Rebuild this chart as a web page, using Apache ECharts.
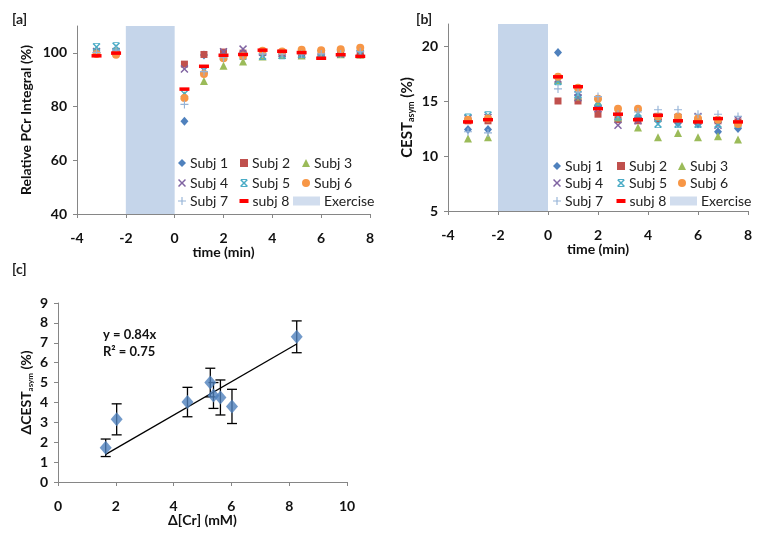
<!DOCTYPE html>
<html><head><meta charset="utf-8">
<script src="https://cdn.jsdelivr.net/npm/echarts@6/dist/echarts.min.js"></script>
<style>html,body{margin:0;padding:0;background:#fff}#c{width:762px;height:539px}</style>
</head><body><div id="c"></div>
<script>
// ---------- DATA ----------
const times = [-3.2, -2.4, 0.4, 1.2, 2.0, 2.8, 3.6, 4.4, 5.2, 6.0, 6.8, 7.6];
const subjNames = ['Subj 1','Subj 2','Subj 3','Subj 4','Subj 5','Subj 6','Subj 7','subj 8'];
const exerciseStart = -2, exerciseEnd = 0;

// Panel a: Relative PCr integral (%)
const pcrSubj1 = [100.0, 100.5, 74.5, 99.2, 99.5, 99.8, 99.5, 99.5, 99.5, 99.5, 99.8, 99.5];
const pcrSubj2 = [100.3, 100.2, 95.8, 99.4, 100.3, 99.9, 100.2, 99.9, 99.3, 99.4, 99.6, 99.3];
const pcrSubj3 = [100.8, 101.2, 84.2, 89.5, 95.2, 96.8, 98.6, 99.2, 99.0, 99.2, 99.5, 99.4];
const pcrSubj4 = [100.5, 100.5, 94.0, 93.5, 100.4, 101.4, 100.2, 99.8, 99.3, 99.8, 99.6, 99.7];
const pcrSubj5 = [102.2, 102.5, 84.8, 93.8, 98.5, 98.8, 98.8, 99.1, 99.6, 99.9, 99.9, 99.7];
const pcrSubj6 = [99.6, 99.3, 83.2, 92.1, 98.0, 98.8, 100.8, 100.5, 101.2, 101.0, 101.3, 101.9];
const pcrSubj7 = [100.2, 101.0, 80.8, 93.0, 98.2, 99.0, 99.6, 99.5, 99.5, 99.6, 99.6, 100.4];
const pcrSubj8 = [98.9, 99.9, 86.5, 95.0, 99.1, 99.4, 101.0, 100.6, 100.1, 98.0, 99.3, 98.7];

// Panel b: CEST_asym (%)
const cestSubj1 = [12.4, 12.4, 19.4, 15.5, 14.5, 13.8, 13.5, 13.3, 13.0, 12.9, 12.2, 12.5];
const cestSubj2 = [13.2, 13.2, 15.0, 15.0, 13.8, 13.3, 13.2, 13.4, 13.3, 13.2, 13.2, 13.1];
const cestSubj3 = [11.6, 11.7, 16.9, 15.4, 14.9, 13.5, 12.6, 11.7, 12.1, 11.7, 11.8, 11.5];
const cestSubj4 = [13.4, 13.5, 17.0, 15.3, 14.3, 12.8, 13.2, 13.6, 13.5, 13.6, 12.8, 13.3];
const cestSubj5 = [13.5, 13.7, 16.8, 15.6, 14.9, 13.6, 13.9, 12.9, 12.9, 12.9, 12.9, 12.9];
const cestSubj6 = [13.3, 13.4, 17.2, 16.2, 15.2, 14.3, 14.3, 13.6, 13.6, 13.4, 13.3, 12.9];
const cestSubj7 = [12.2, 12.1, 16.1, 15.8, 15.4, 13.8, 14.0, 14.2, 14.2, 13.8, 13.8, 13.6];
const cestSubj8 = [13.1, 13.3, 17.2, 16.3, 14.3, 13.8, 13.3, 13.7, 13.2, 13.1, 13.4, 13.1];

// Panel c: ΔCEST_asym vs Δ[Cr]
const deltaCr = [1.65, 2.03, 4.48, 5.27, 5.38, 5.62, 6.02, 8.26];
const deltaCest = [1.72, 3.15, 4.02, 5.0, 4.35, 4.25, 3.8, 7.3];
const deltaCestErr = [0.44, 0.78, 0.74, 0.72, 0.65, 0.88, 0.86, 0.8];
const fitSlope = 0.84;
const fitR2 = 0.75;

const pcrTicks = [40, 60, 80, 100];
const cestTicks = [5, 10, 15, 20];

// ---------- STYLE ----------
const FONT = 'Lato';
const AXIS_GRAY = '#868686';
const BAND = '#C5D5EA';
const colors = ['#4F81BD','#C0504D','#9BBB59','#8064A2','#4BACC6','#F79646','#95B3D7','#FF0000'];
const X_PATH = 'path://M0,1.3 L1.3,0 L5,3.7 L8.7,0 L10,1.3 L6.3,5 L10,8.7 L8.7,10 L5,6.3 L1.3,10 L0,8.7 L3.7,5 Z';
const AST_PATH = 'path://M0,1.3 L1.3,0 L5,3.7 L8.7,0 L10,1.3 L6.3,5 L10,8.7 L8.7,10 L5,6.3 L1.3,10 L0,8.7 L3.7,5 Z M1,0 H9 V1.1 H1 Z M1,8.9 H9 V10 H1 Z';
const PLUS_PATH = 'path://M4.3,0 H5.7 V4.3 H10 V5.7 H5.7 V10 H4.3 V5.7 H0 V4.3 H4.3 Z';
const symbols = ['diamond','rect','triangle', X_PATH, AST_PATH, 'circle', PLUS_PATH, 'rect'];
const sizes = [[8,9],7,8,8,8,8,8,[10,3.5]];

const pcrAll = [pcrSubj1,pcrSubj2,pcrSubj3,pcrSubj4,pcrSubj5,pcrSubj6,pcrSubj7,pcrSubj8];
const cestAll = [cestSubj1,cestSubj2,cestSubj3,cestSubj4,cestSubj5,cestSubj6,cestSubj7,cestSubj8];

function axisCommon(extra) {
  return Object.assign({
    axisLine: {show: true, onZero: false, lineStyle: {color: AXIS_GRAY, width: 1}},
    axisTick: {show: true, length: 4, lineStyle: {color: AXIS_GRAY}},
    splitLine: {show: false},
    axisLabel: {color: '#111', fontFamily: FONT, fontWeight: 'bold', fontSize: 14, margin: 17},
    nameTextStyle: {color: '#111', fontFamily: FONT, fontWeight: 'bold', fontSize: 14},
    nameLocation: 'middle'
  }, extra);
}

const series = [];
function addPanel(idx, dataAll) {
  series.push({
    name: 'Exercise', type: 'scatter', xAxisIndex: idx, yAxisIndex: idx, data: [],
    itemStyle: {color: BAND}, silent: true,
    markArea: {silent: true, itemStyle: {color: BAND}, data: [[{xAxis: exerciseStart}, {xAxis: exerciseEnd}]]}
  });
  subjNames.forEach((n, i) => {
    series.push({
      name: n, type: 'scatter', xAxisIndex: idx, yAxisIndex: idx,
      symbol: symbols[i], symbolSize: sizes[i],
      itemStyle: {color: colors[i], opacity: 1},
      data: times.map((t, k) => [t, dataAll[i][k]]),
      z: 3 + i
    });
  });
}
addPanel(0, pcrAll);
addPanel(1, cestAll);

// Panel c
series.push({
  type: 'line', xAxisIndex: 2, yAxisIndex: 2, symbol: 'none',
  lineStyle: {color: '#000', width: 1.3}, z: 2,
  data: [Math.min(...deltaCr), Math.max(...deltaCr)].map(x => [x, fitSlope * x])
});
series.push({
  type: 'custom', xAxisIndex: 2, yAxisIndex: 2, z: 3,
  data: deltaCr.map((x, i) => [x, deltaCest[i] - deltaCestErr[i], deltaCest[i] + deltaCestErr[i]]),
  encode: {x: 0, y: [1, 2]},
  renderItem: function (params, api) {
    const lo = api.coord([api.value(0), api.value(1)]);
    const hi = api.coord([api.value(0), api.value(2)]);
    const w = 5;
    const st = {stroke: '#000', lineWidth: 1.3};
    return {type: 'group', children: [
      {type: 'line', shape: {x1: lo[0], y1: lo[1], x2: hi[0], y2: hi[1]}, style: st},
      {type: 'line', shape: {x1: lo[0]-w, y1: lo[1], x2: lo[0]+w, y2: lo[1]}, style: st},
      {type: 'line', shape: {x1: hi[0]-w, y1: hi[1], x2: hi[0]+w, y2: hi[1]}, style: st}
    ]};
  }
});
series.push({
  type: 'scatter', xAxisIndex: 2, yAxisIndex: 2, symbol: 'diamond', symbolSize: [12, 14], z: 4,
  itemStyle: {color: '#4F81BD'},
  data: deltaCr.map((x, i) => [x, deltaCest[i]])
});

// Legends: 3x3 grid each
const legends = [];
function addLegends(colX, rowY, exLeft) {
  const items = subjNames.concat(['Exercise']);
  items.forEach((n, i) => {
    const r = Math.floor(i / 3), c = i % 3;
    const isEx = n === 'Exercise';
    const isDash = n === 'subj 8';
    const iw = isEx ? 27 : (isDash ? 9 : 8);
    const ih = isEx ? 9 : (isDash ? 4 : 8);
    const icon = isEx ? 'rect' : (symbols[i]);
    legends.push({
      data: [{name: n, icon: icon}],
      left: isEx ? exLeft : colX[c] - iw / 2,
      top: rowY[r] - 9,
      padding: 0, itemWidth: iw, itemHeight: ih, itemGap: 0,
      selectedMode: false,
      textStyle: {fontFamily: FONT, fontSize: 14, color: '#222', lineHeight: 18, padding: [0,0,0,-1]}
    });
  });
}
addLegends([182, 244, 306], [163, 183, 201], 293);
addLegends([557, 621, 682], [166, 183, 201], 670);

const option = {
  backgroundColor: '#fff',
  animation: false,
  grid: [
    {left: 77, top: 26, width: 293, height: 188},
    {left: 448, top: 24, width: 300, height: 187},
    {left: 58, top: 303, width: 289, height: 179}
  ],
  xAxis: [
    axisCommon({type: 'value', gridIndex: 0, min: -4, max: 8, interval: 2, name: 'time (min)', nameGap: 30}),
    axisCommon({type: 'value', gridIndex: 1, min: -4, max: 8, interval: 2, name: 'time (min)', nameGap: 30}),
    axisCommon({type: 'value', gridIndex: 2, min: 0, max: 10, interval: 2, name: 'Δ[Cr] (mM)', nameGap: 31})
  ],
  yAxis: [
    axisCommon({type: 'value', gridIndex: 0, min: 40, max: 110, name: 'Relative PCr Integral (%)', nameGap: 44,
      axisLabel: {color: '#111', fontFamily: FONT, fontWeight: 'bold', fontSize: 14, margin: 10, customValues: pcrTicks},
      axisTick: {show: true, length: 4, lineStyle: {color: AXIS_GRAY}, customValues: pcrTicks}}),
    axisCommon({type: 'value', gridIndex: 1, min: 5, max: 22, name: '{n|CEST}{s|asym}{n| (%)}', nameGap: 32,
      axisLabel: {color: '#111', fontFamily: FONT, fontWeight: 'bold', fontSize: 14, margin: 10, customValues: cestTicks},
      axisTick: {show: true, length: 4, lineStyle: {color: AXIS_GRAY}, customValues: cestTicks},
      nameTextStyle: {color: '#111', fontFamily: FONT, fontWeight: 'bold', fontSize: 14,
        rich: {n: {fontFamily: FONT, fontWeight: 'bold', fontSize: 15, color: '#111'},
               s: {fontFamily: FONT, fontWeight: 'bold', fontSize: 9, color: '#111', padding: [8, 0, 0, 0]}}}}),
    axisCommon({type: 'value', gridIndex: 2, min: 0, max: 9, interval: 1, name: '{n|ΔCEST}{s|asym}{n| (%)}', nameGap: 24,
      axisLabel: {color: '#111', fontFamily: FONT, fontWeight: 'bold', fontSize: 14, margin: 10},
      nameTextStyle: {color: '#111', fontFamily: FONT, fontWeight: 'bold', fontSize: 14,
        rich: {n: {fontFamily: FONT, fontWeight: 'bold', fontSize: 14, color: '#111'},
               s: {fontFamily: FONT, fontWeight: 'bold', fontSize: 8, color: '#111', padding: [8, 0, 0, 0]}}}})
  ],
  legend: legends,
  graphic: [
    {type: 'text', left: 12, top: 12, style: {text: '[a]', font: 'bold 14px Lato', fill: '#222'}},
    {type: 'text', left: 416, top: 12, style: {text: '[b]', font: 'bold 14px Lato', fill: '#222'}},
    {type: 'text', left: 12, top: 262, style: {text: '[c]', font: 'bold 14px Lato', fill: '#222'}},
    {type: 'text', left: 103, top: 328, style: {text: 'y = ' + fitSlope + 'x', font: 'bold 13px Lato', fill: '#111'}},
    {type: 'text', left: 103, top: 345, style: {text: 'R² = ' + fitR2, font: 'bold 13px Lato', fill: '#111'}}
  ],
  series: series
};
const chart = echarts.init(document.getElementById('c'), null, {renderer: 'canvas'});
chart.setOption(option);
</script></body></html>
